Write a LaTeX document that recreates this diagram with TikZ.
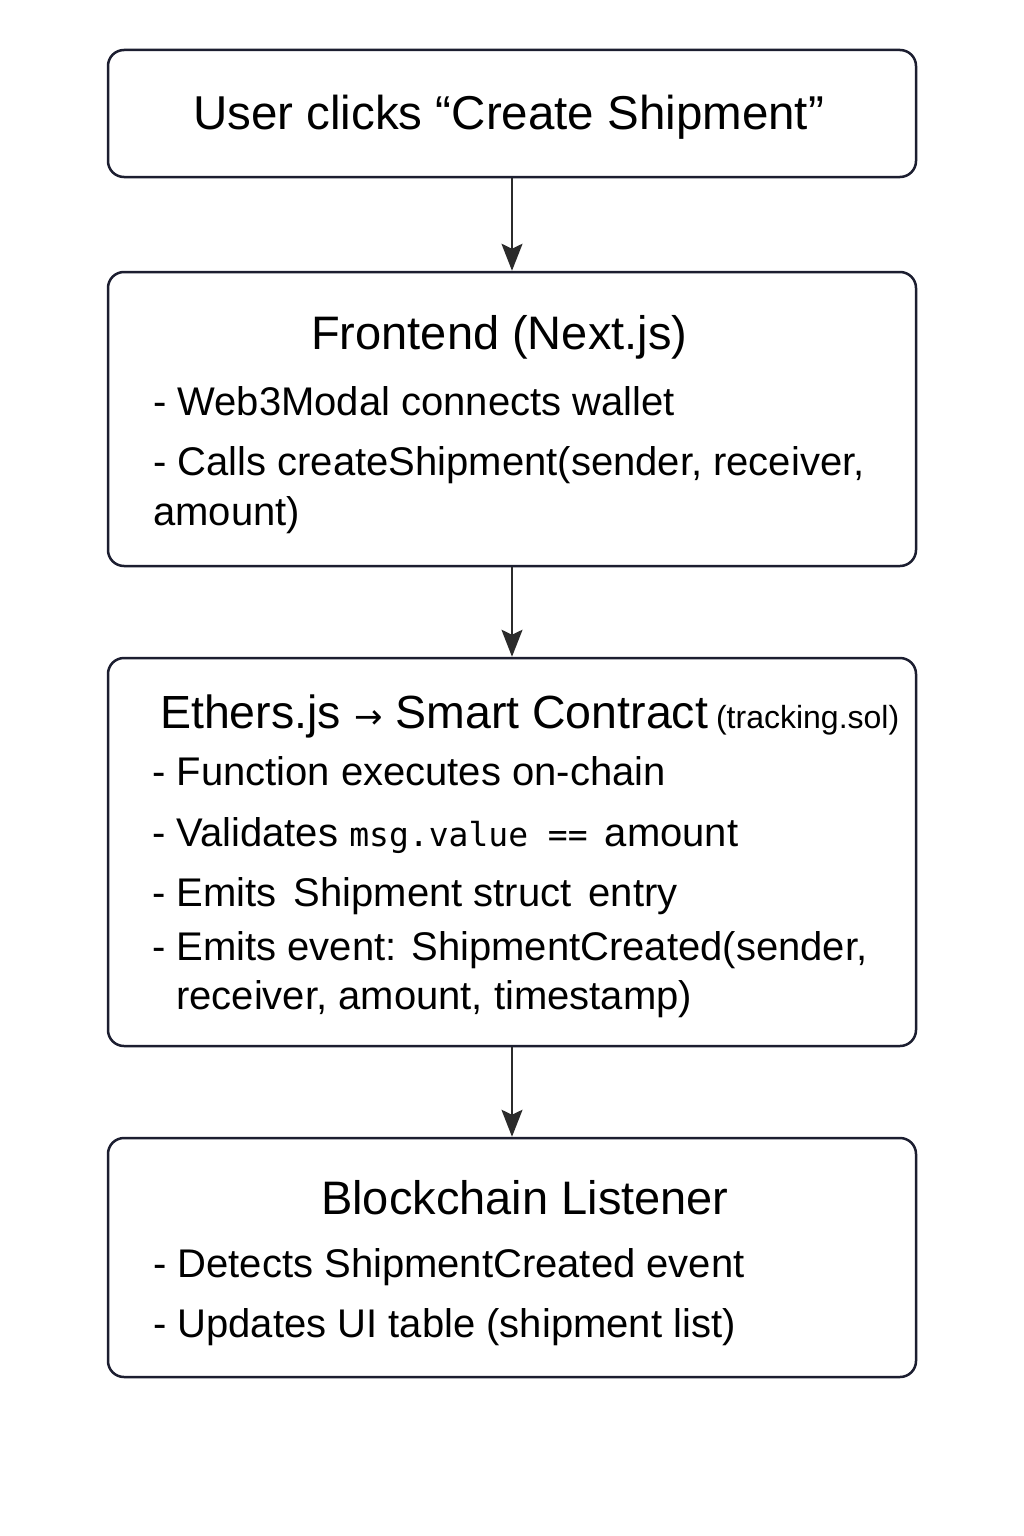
\documentclass[tikz,border=0pt]{standalone}
\usepackage{fontspec}
\setmainfont{Liberation Sans}
\setmonofont{DejaVu Sans Mono}
\newfontfamily\arrowfont{DejaVu Sans}
\usetikzlibrary{arrows.meta}

\definecolor{boxline}{HTML}{1C1E30}
\definecolor{arrowline}{HTML}{2B2B2B}

\tikzset{
  stagebox/.style={draw=boxline, line width=2.5pt, rounded corners=16pt,
                   minimum width=808pt, inner sep=0pt},
  flowarrow/.style={draw=arrowline, line width=2pt,
                    -{Stealth[length=27pt,width=21pt,inset=5pt]}},
  titletext/.style={anchor=base west, inner sep=0pt, font=\fontsize{47}{56}\selectfont},
  itemtext/.style={anchor=base west, inner sep=0pt, font=\fontsize{40}{48}\selectfont}
}

\begin{document}
\begin{tikzpicture}[x=1pt,y=-1pt]
                \useasboundingbox (0,0) rectangle (1024,1536);
                \fill[white] (0,0) rectangle (1024,1536);

                \coordinate (U) at (512,113.5);
                \coordinate (F) at (512,419);
                \coordinate (S) at (512,852);
                \coordinate (L) at (512,1257.5);

                % the four stages
                \node[stagebox, minimum height=127pt] (user) at (U) {};
                \node[stagebox, minimum height=294pt] (front) at (F) {};
                \node[stagebox, minimum height=388pt] (contract) at (S) {};
                \node[stagebox, minimum height=239pt] (listener) at (L) {};

                \draw[flowarrow] (user.south) -- (front.north);
                \draw[flowarrow] (front.south) -- (contract.north);
                \draw[flowarrow] (contract.south) -- (listener.north);

                \node[titletext, font=\fontsize{47.5}{56}\selectfont] (usertitle) at (193,130) {User clicks “Create Shipment”};

                \node[titletext] (fronttitle) at (311,349) {Frontend (Next.js)};
                \node[itemtext] (frontA) at (153,415) {- Web3Modal connects wallet};
                \node[itemtext] (frontB) at (153,475) {- Calls createShipment(sender, receiver,};
                \node[itemtext] (frontC) at (153,525) {amount)};

                \node[titletext, font=\fontsize{46.5}{56}\selectfont] (contracttitle) at (160,728) {Ethers.js {\arrowfont\fontsize{34}{40}\selectfont →} Smart Contract\hspace{8pt}{\fontsize{32}{38}\selectfont(tracking.sol)}};
                \node[itemtext] (contractA) at (152,785) {- Function executes on-chain};
                \node[itemtext] (contractB) at (152,846) {- Validates {\ttfamily\fontsize{33}{40}\selectfont msg.value ==}\hspace{6pt} amount};
                \node[itemtext] (contractC) at (152,906) {- Emits\hspace{6pt} Shipment struct\hspace{6pt} entry};
                \node[itemtext] (contractD) at (152,960) {- Emits event: ShipmentCreated(sender,};
                \node[itemtext] (contractE) at (176,1009) {receiver, amount, timestamp)};

                \node[titletext] (listenertitle) at (321,1214) {Blockchain Listener};
                \node[itemtext] (listenerA) at (153,1277) {- Detects ShipmentCreated event};
                \node[itemtext] (listenerB) at (153,1337) {- Updates UI table (shipment list)};

\end{tikzpicture}
\end{document}
